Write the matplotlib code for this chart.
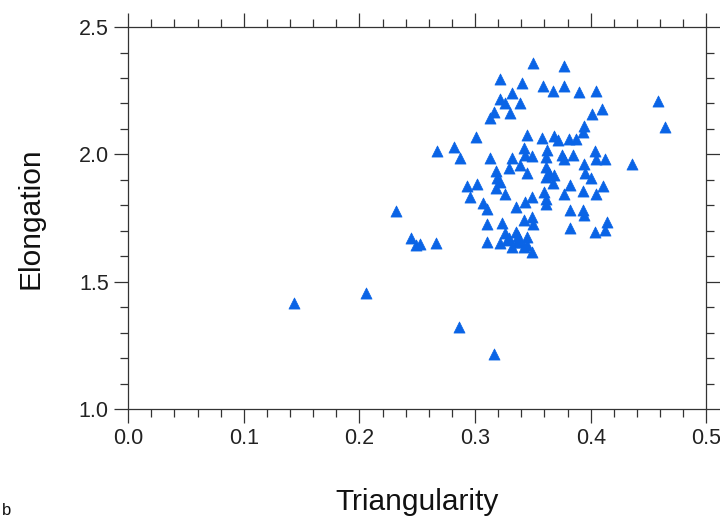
import matplotlib
matplotlib.use("Agg")
import matplotlib.pyplot as plt
from matplotlib.ticker import MultipleLocator

plt.rcParams['font.family'] = ['Liberation Sans', 'DejaVu Sans']

triangularity = [
    0.350, 0.377, 0.322, 0.341, 0.359, 0.367, 0.377, 0.390, 0.405, 0.322,
    0.332, 0.326, 0.339, 0.330, 0.316, 0.313, 0.401, 0.410, 0.458, 0.464,
    0.394, 0.393, 0.301, 0.345, 0.358, 0.368, 0.372, 0.381, 0.387, 0.267,
    0.282, 0.287, 0.313, 0.332, 0.342, 0.343, 0.349, 0.362, 0.361, 0.375,
    0.377, 0.385, 0.404, 0.405, 0.412, 0.436, 0.394, 0.329, 0.339, 0.318,
    0.319, 0.322, 0.345, 0.361, 0.364, 0.368, 0.361, 0.367, 0.395, 0.400,
    0.293, 0.302, 0.318, 0.326, 0.296, 0.360, 0.361, 0.382, 0.377, 0.393,
    0.411, 0.405, 0.349, 0.343, 0.361, 0.307, 0.310, 0.335, 0.232, 0.382,
    0.393, 0.394, 0.310, 0.323, 0.342, 0.349, 0.350, 0.382, 0.414, 0.412,
    0.404, 0.245, 0.249, 0.266, 0.310, 0.328, 0.332, 0.339, 0.345, 0.349,
    0.335, 0.326, 0.342, 0.322, 0.143, 0.206, 0.286, 0.316, 0.252, 0.329,
    0.337, 0.345, 0.336,
]
elongation = [
    2.357, 2.347, 2.295, 2.281, 2.270, 2.250, 2.270, 2.245, 2.250, 2.216,
    2.242, 2.203, 2.203, 2.163, 2.167, 2.141, 2.158, 2.178, 2.209, 2.106,
    2.111, 2.089, 2.069, 2.076, 2.065, 2.072, 2.056, 2.060, 2.060, 2.013,
    2.030, 1.987, 1.987, 1.984, 2.024, 1.997, 1.993, 2.017, 1.991, 1.997,
    1.980, 1.997, 2.013, 1.980, 1.980, 1.961, 1.961, 1.945, 1.958, 1.935,
    1.908, 1.893, 1.928, 1.951, 1.926, 1.919, 1.910, 1.889, 1.926, 1.906,
    1.877, 1.884, 1.869, 1.844, 1.834, 1.853, 1.823, 1.880, 1.844, 1.857,
    1.877, 1.844, 1.834, 1.814, 1.805, 1.808, 1.784, 1.792, 1.778, 1.781,
    1.781, 1.762, 1.725, 1.729, 1.742, 1.755, 1.725, 1.712, 1.736, 1.703,
    1.696, 1.673, 1.644, 1.651, 1.655, 1.664, 1.637, 1.657, 1.677, 1.618,
    1.696, 1.690, 1.637, 1.651, 1.416, 1.455, 1.322, 1.216, 1.648, 1.670,
    1.680, 1.645, 1.655,
]

x_label = "Triangularity"
y_label = "Elongation"

fig = plt.figure(figsize=(7.2, 5.2), dpi=100)
ax = fig.add_axes([0.178, 0.2135, 0.803, 0.7345])

ax.scatter(triangularity, elongation, marker='^', s=64, color='#0a64e6',
           edgecolors='#0a64e6', linewidths=0.5, zorder=3)

ax.set_xlim(0.0, 0.5)
ax.set_ylim(1.0, 2.5)
ax.xaxis.set_major_locator(MultipleLocator(0.1))
ax.xaxis.set_minor_locator(MultipleLocator(0.02))
ax.yaxis.set_major_locator(MultipleLocator(0.5))
ax.yaxis.set_minor_locator(MultipleLocator(0.1))
ax.xaxis.set_major_formatter(plt.FuncFormatter(lambda v, p: f"{v:.1f}"))
ax.yaxis.set_major_formatter(plt.FuncFormatter(lambda v, p: f"{v:.1f}"))

line_col = '#333333'
for sp in ax.spines.values():
    sp.set_color(line_col)
    sp.set_linewidth(0.9)

ax.tick_params(which='both', direction='out', top=True, right=True,
               color=line_col, width=0.9, labelsize=15.5, labelcolor='#222222')
ax.tick_params(which='major', length=10, pad=4)
ax.tick_params(which='minor', length=5.5)

ax.set_xlabel(x_label, fontsize=21.5, labelpad=0, color='#111111')
ax.set_ylabel(y_label, fontsize=21.5, labelpad=0, color='#111111')
ax.xaxis.set_label_coords(0.5, -0.208)
ax.yaxis.set_label_coords(-0.144, 0.5)

fig.text(0.002, 0.003, 'b', fontsize=12, ha='left', va='bottom', color='#111111')

fig.savefig("out.png", dpi=100)
